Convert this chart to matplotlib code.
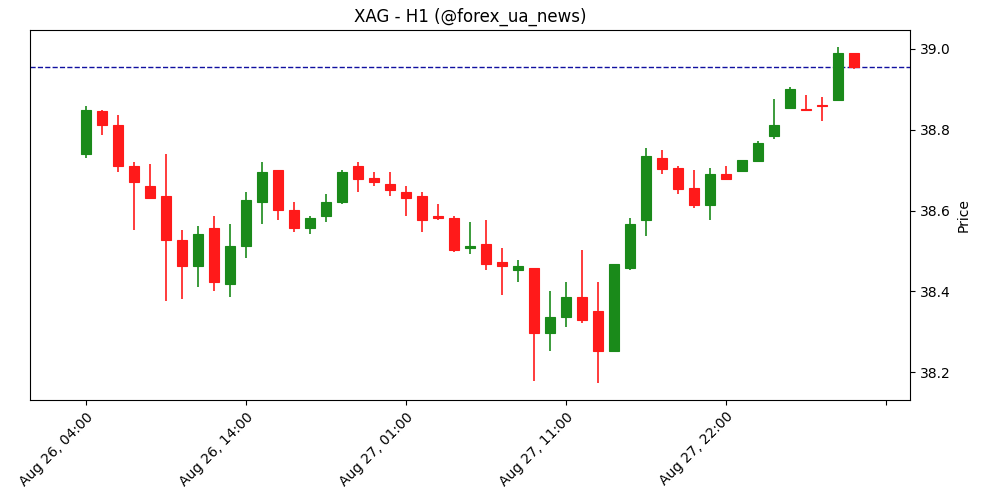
import matplotlib
matplotlib.use("Agg")
import matplotlib.pyplot as plt

opens = [38.740,38.846,38.812,38.710,38.661,38.636,38.527,38.462,38.557,38.418,
         38.512,38.621,38.700,38.601,38.557,38.586,38.621,38.710,38.680,38.666,
         38.646,38.636,38.586,38.581,38.507,38.517,38.472,38.453,38.458,38.297,
         38.336,38.386,38.351,38.252,38.458,38.576,38.730,38.705,38.656,38.614,
         38.690,38.699,38.723,38.785,38.855,38.851,38.861,38.874,38.989]
highs = [38.859,38.849,38.837,38.720,38.715,38.740,38.552,38.562,38.586,38.567,
         38.646,38.720,38.700,38.621,38.586,38.641,38.700,38.720,38.695,38.695,
         38.661,38.646,38.616,38.586,38.571,38.576,38.507,38.477,38.458,38.401,
         38.423,38.502,38.423,38.467,38.581,38.755,38.750,38.710,38.700,38.705,
         38.710,38.725,38.772,38.876,38.906,38.886,38.881,39.006,38.989]
lows = [38.730,38.787,38.695,38.552,38.631,38.376,38.381,38.410,38.401,38.386,
        38.482,38.567,38.576,38.547,38.542,38.571,38.616,38.646,38.661,38.636,
        38.586,38.547,38.576,38.497,38.492,38.453,38.391,38.423,38.178,38.252,
        38.311,38.321,38.173,38.249,38.453,38.537,38.690,38.641,38.606,38.576,
        38.679,38.699,38.723,38.777,38.855,38.846,38.822,38.874,38.950]
closes = [38.849,38.812,38.710,38.671,38.631,38.527,38.462,38.542,38.423,38.512,
          38.626,38.695,38.601,38.557,38.581,38.621,38.695,38.679,38.671,38.651,
          38.631,38.576,38.581,38.502,38.512,38.467,38.462,38.462,38.297,38.336,
          38.386,38.329,38.252,38.467,38.567,38.735,38.704,38.654,38.614,38.690,
          38.679,38.725,38.768,38.812,38.901,38.848,38.860,38.989,38.955]
tick_pos = [0, 10, 20, 30, 40, 50]
tick_labels = ["Aug 26, 04:00", "Aug 26, 14:00", "Aug 27, 01:00", "Aug 27, 11:00", "Aug 27, 22:00", ""]
current_price = 38.955

fig = plt.figure(figsize=(10, 5), dpi=100)
ax = fig.add_axes([0.03, 0.2, 0.88, 0.74])
up_c, dn_c = "#1a8a1a", "#ff1a1a"
w = 0.62
for i, (o, h, l, c) in enumerate(zip(opens, highs, lows, closes)):
    col = up_c if c >= o else dn_c
    ax.vlines(i, l, h, color=col, linewidth=1.2, zorder=2)
    b = min(o, c)
    ht = max(abs(c - o), 0.002)
    ax.bar(i, ht, bottom=b, width=w, color=col, edgecolor=col, linewidth=0.8, zorder=3)
ax.axhline(current_price, color="#1010a0", linestyle="--", linewidth=1)
ax.set_xlim(-3.5, 51.5)
ax.set_ylim(38.131, 39.047)
ax.set_xticks(tick_pos)
ax.set_xticklabels(tick_labels, rotation=45, ha="right", rotation_mode="anchor")
ax.yaxis.tick_right()
ax.yaxis.set_label_position("right")
ax.set_yticks([38.2, 38.4, 38.6, 38.8, 39.0])
ax.set_ylabel("Price")
ax.set_title("XAG - H1 (@forex_ua_news)")
fig.savefig("out.png")
